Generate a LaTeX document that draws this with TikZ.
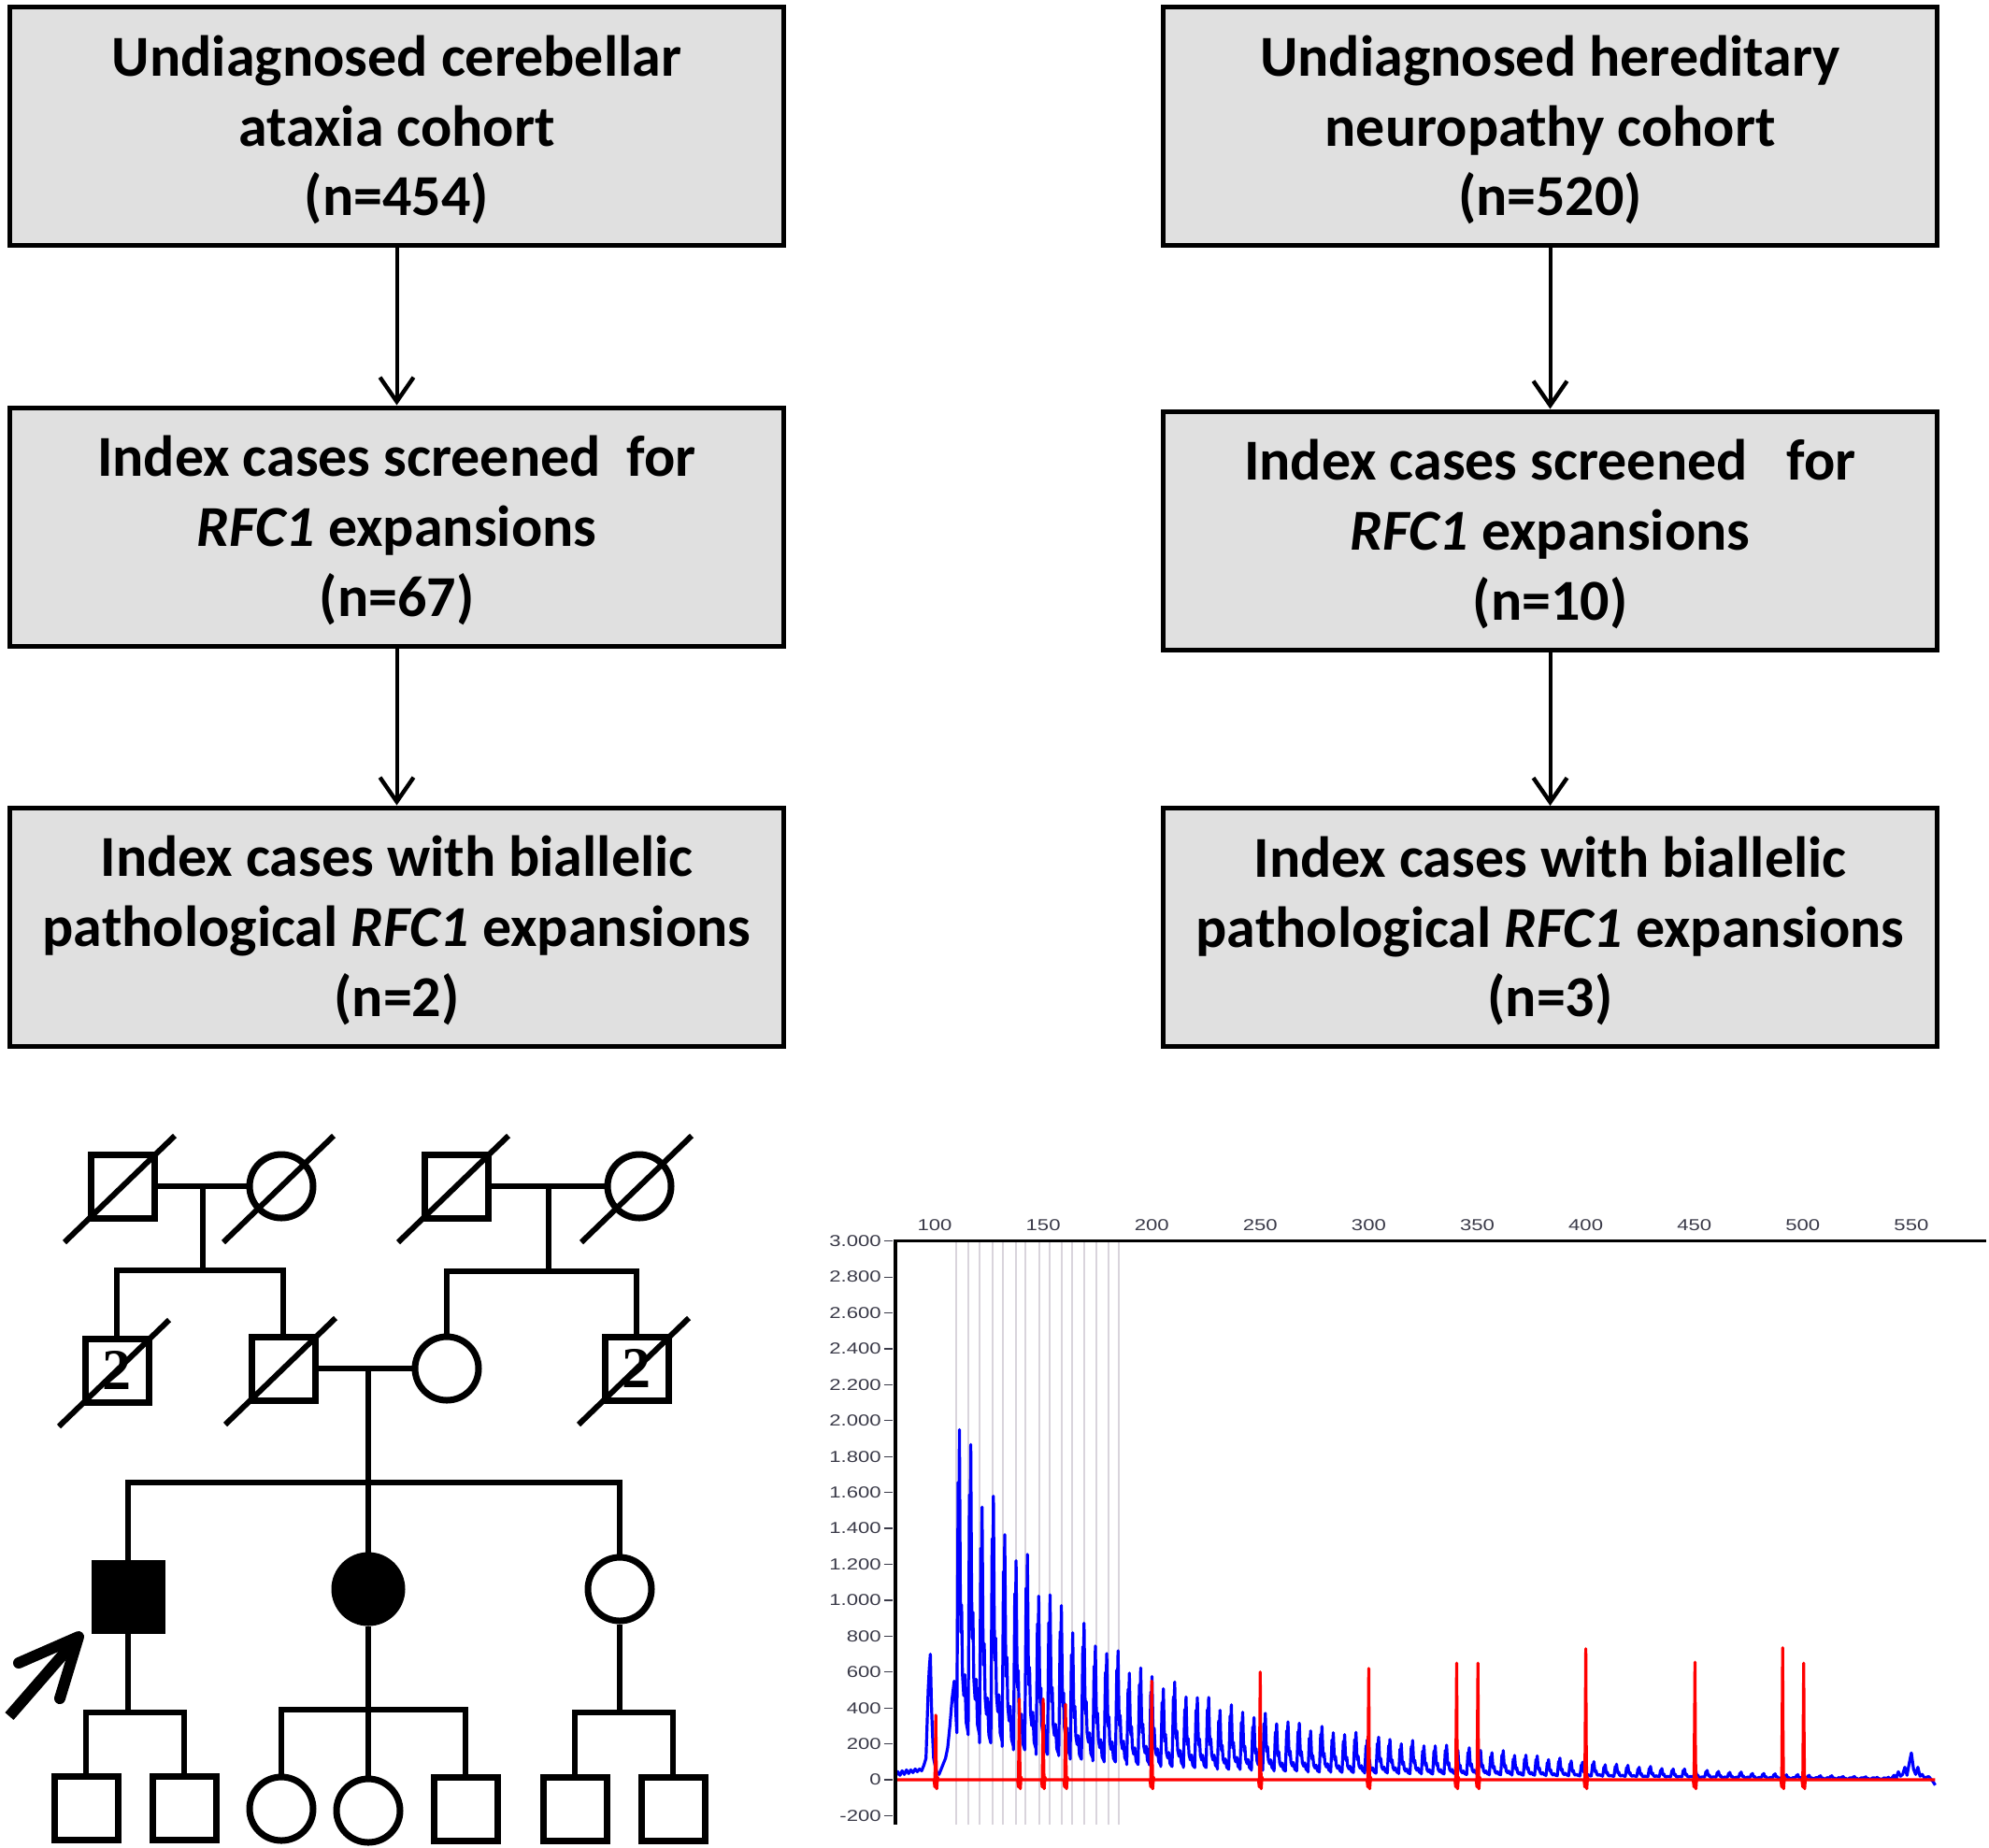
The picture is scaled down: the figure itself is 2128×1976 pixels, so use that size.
\documentclass[tikz,border=0pt]{standalone}
\usepackage{fontspec}
\setmainfont{Carlito}
\newfontfamily\chartfont{Liberation Sans}
\newfontfamily\pedfont{Liberation Serif}
\usetikzlibrary{arrows.meta}
\definecolor{boxgray}{HTML}{E0E0E0}
\definecolor{gridgray}{HTML}{D9D4DC}
\definecolor{labgray}{HTML}{3A3A48}
\definecolor{traceblue}{HTML}{0000FF}
\definecolor{tracered}{HTML}{FF0000}
\newcommand\dslash[1]{\draw[line width=3pt] ([shift={(-62,60)}]#1.center) -- ([shift={(56,-54)}]#1.center);}
\newcommand\topstrut{\rule{0pt}{29pt}}
\newcommand\botstrut{\rule[-8pt]{0pt}{8pt}}
\begin{document}
\begin{tikzpicture}[x=0.5pt,y=-0.5pt,
  flowbox/.style={draw=black, line width=2.5pt, fill=boxgray, minimum width=414pt, minimum height=127.5pt, align=center, inner sep=0pt, font=\bfseries\fontsize{31}{37.3}\selectfont},
  flowarrow/.style={line width=2pt, -{Straight Barb[length=13pt,width=18pt,line width=2.2pt]}},
  ped/.style={line width=3pt},
  male/.style={draw, line width=3.5pt, rectangle, minimum size=34pt, inner sep=0pt, fill=white},
  female/.style={draw, line width=3.5pt, circle, minimum size=34pt, inner sep=0pt, fill=white},
  affected/.style={fill=black, minimum size=36pt},
  num/.style={font=\pedfont\bfseries\fontsize{31}{31}\selectfont},
  ylab/.style={anchor=east, inner sep=0pt, text=labgray, font=\chartfont\fontsize{8.5}{8.5}\selectfont},
  xlab/.style={anchor=center, inner sep=0pt, text=labgray, font=\chartfont\fontsize{8.5}{8.5}\selectfont},
]
\useasboundingbox (0,0) rectangle (2128,1976);
\fill[white] (0,0) rectangle (2128,1976);

% ---------------- flow chart ----------------
\node[flowbox] (L1) at (424.5,135) {\topstrut Undiagnosed cerebellar\\ataxia cohort\\(n=454)\botstrut};
\node[flowbox] (L2) at (424.5,563.5) {\topstrut Index cases screened\ \ for\\\textit{RFC1} expansions\\(n=67)\botstrut};
\node[flowbox] (L3) at (424.5,991.5) {\topstrut Index cases with biallelic\\pathological \textit{RFC1} expansions\\(n=2)\botstrut};
\node[flowbox] (R1) at (1658.5,135) {\topstrut Undiagnosed hereditary\\neuropathy cohort\\(n=520)\botstrut};
\node[flowbox] (R2) at (1658.5,567.5) {\topstrut Index cases screened\ \ \ for\\\textit{RFC1} expansions\\(n=10)\botstrut};
\node[flowbox] (R3) at (1658.5,992) {\topstrut Index cases with biallelic\\pathological \textit{RFC1} expansions\\(n=3)\botstrut};
\draw[flowarrow] (L1) -- (L2);
\draw[flowarrow] (L2) -- (L3);
\draw[flowarrow] (R1) -- (R2);
\draw[flowarrow] (R2) -- (R3);

% ---------------- pedigree ----------------
\node[male] (I1) at (131,1269) {};
\node[female] (I2) at (301,1269) {};
\node[male] (I3) at (488,1269) {};
\node[female] (I4) at (684,1269) {};
\node[male,num] (II1) at (125,1466) {2};
\node[male] (II2) at (303,1464) {};
\node[female] (II3) at (478,1464) {};
\node[male,num] (II4) at (681,1464) {2};
\node[male,affected] (III1) at (137,1708) {};
\node[female,affected] (III2) at (394,1700) {};
\node[female] (III3) at (663,1700) {};
\node[male] (IV1) at (92,1934) {};
\node[male] (IV2) at (197,1934) {};
\node[female] (IV3) at (301,1935) {};
\node[female] (IV4) at (394,1937) {};
\node[male] (IV5) at (498,1935) {};
\node[male] (IV6) at (615,1935) {};
\node[male] (IV7) at (720,1935) {};

\coordinate (m1) at (217,1269); \coordinate (s1) at (217,1359);
\coordinate (m2) at (587,1269); \coordinate (s2) at (587,1360);
\coordinate (m3) at (394,1464); \coordinate (s3) at (394,1586);
\coordinate (s4) at (137,1832);
\coordinate (s5) at (394,1829);
\coordinate (s6) at (663,1832);

\draw[ped] (I1.east) -- (I2.west);
\draw[ped] (I3.east) -- (I4.west);
\draw[ped] (II2.east) -- (II3.west);
\draw[ped] (m1) -- (s1);
\draw[ped] (m2) -- (s2);
\draw[ped] (m3) -- (s3);
\draw[ped] (II1.north) |- (s1) -| (II2.north);
\draw[ped] (II3.north) |- (s2) -| (II4.north);
\draw[ped] (III1.north) |- (s3) -| (III3.north);
\draw[ped] (s3) -- (III2.north);
\draw[ped] (III1.south) -- (s4);
\draw[ped] (IV1.north) |- (s4) -| (IV2.north);
\draw[ped] (III2.south) -- (s5);
\draw[ped] (IV3.north) |- (s5) -| (IV5.north);
\draw[ped] (s5) -- (IV4.north);
\draw[ped] (III3.south) -- (s6);
\draw[ped] (IV6.north) |- (s6) -| (IV7.north);

\dslash{I1}\dslash{I2}\dslash{I3}\dslash{I4}
\dslash{II1}\dslash{II2}\dslash{II4}

% proband arrow
\coordinate (pt) at (10,1836);
\coordinate (ph) at (84,1751);
\coordinate (pa1) at (20,1779);
\coordinate (pa2) at (64,1817);
\draw[line width=6pt] (pt) -- (ph);
\draw[line width=6pt, line cap=round, line join=round] (pa1) -- (ph) -- (pa2);

% ---------------- electropherogram ----------------
\begin{scope}[shift={(383.9pt,-952pt)}, x=1.161pt, y=0.09605pt]
  \foreach \b in {109.9,115.5,120.7,126.7,131.4,137.5,141.8,148.2,153.0,158.6,163.3,168.9,174.5,180.1,184.8}
    \draw[gridgray, line width=1.4pt] (\b,-250) -- (\b,3000);
  \foreach \v/\t in {3000/3.000,2800/2.800,2600/2.600,2400/2.400,2200/2.200,2000/2.000,1800/1.800,1600/1.600,1400/1.400,1200/1.200,1000/1.000,800/800,600/600,400/400,200/200,0/0,-200/-200}{
    \node[ylab] at (75.5,\v) {\scalebox{1.3}[1]{\t}};
    \draw[labgray, line width=0.6pt] (76.6,\v) -- (80.6,\v);
  }
  \foreach \b in {100,150,...,550}
    \node[xlab] at (\b,3087) {\scalebox{1.3}[1]{\b}};
  % blue trace
  \draw[traceblue, line width=1.6pt, line join=round]
    (82,20) -- (83,45) -- (84,25) -- (85,50) -- (86,30) -- (87,55) -- (88,35) -- (89,55) -- (90,40) -- (91,60) -- (92,45) -- (93,60) -- (94,50) -- (95,80) -- (96,120) -- (97,500) -- (97.5,620) -- (98,700) -- (98.5,420) -- (99,250) -- (99.5,120) -- (100,90) -- (101,40) -- (102,30) -- (103,60) -- (104,90) -- (105,120) -- (106,180) -- (107,300) -- (108,450) -- (109,550)
    \foreach \k [evaluate={\k as \c using 111.5+5.22*\k}, evaluate={\k as \h using (1150*exp(-5.22*\k/40)+800*exp(-5.22*\k/150))*max(0.1,min(1,1-(5.22*\k-250)/250))*(1+0.07*sin(\k*137))}] in {0,...,82}
      { -- ({\c-1.3},{0.13*\h+8}) -- ({\c-0.9},{0.6*\h}) -- ({\c-0.7},{0.85*\h}) -- ({\c-0.4},{0.72*\h}) -- ({\c-0.1},\h) -- ({\c+0.3},{0.55*\h}) -- ({\c+0.6},{0.42*\h}) -- ({\c+0.9},{0.5*\h}) -- ({\c+1.3},{0.3*\h}) -- ({\c+1.9},{0.24*\h}) -- ({\c+2.4},{0.3*\h}) -- ({\c+3.0},{0.16*\h+8}) -- ({\c+3.9},{0.13*\h+8}) }
    -- (541,10) -- (542,25) -- (543,12) -- (544,45) -- (545,20) -- (546,30) -- (547,70) -- (548,25) -- (549,90) -- (550,150) -- (551,60) -- (552,30) -- (553,70) -- (554,20) -- (555,30) -- (556,10) -- (558,18) -- (560,-10) -- (561,-30);
  % red trace
  \draw[tracered, line width=1.6pt, line join=round] (82,0)
    \foreach \c/\h in {100.5/360,139/450,150/450,160.3/420,200/550,250/600,300/620,340.5/650,350.3/650,400/730,450.3/655,490.7/735,500.4/650}
      { -- ({\c-0.8},0) -- ({\c-0.45},-40) -- ({\c-0.2},{0.5*\h}) -- (\c,\h) -- ({\c+0.2},{0.3*\h}) -- ({\c+0.45},-50) -- ({\c+0.8},15) -- ({\c+1.1},0) }
    -- (561,0);
  % axes
  \draw[line width=1.6pt] (81.9,-250) -- (81.9,3000) -- (584.5,3000);
\end{scope}
\end{tikzpicture}
\end{document}
